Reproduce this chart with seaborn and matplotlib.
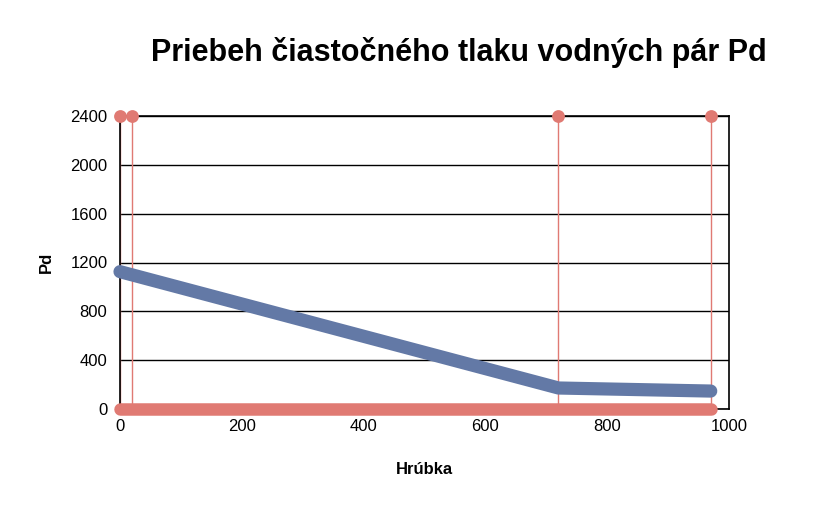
import matplotlib
matplotlib.use("Agg")
import matplotlib.pyplot as plt
import seaborn as sns
import pandas as pd

# layer boundaries (thickness, mm) and partial vapour pressure Pd
hrubka = [0, 720, 970]
pd_vals = [1125, 172, 147]
vrstvy = [0, 20, 720, 970]
y_max = 2400
y_ticks = [0, 400, 800, 1200, 1600, 2000, 2400]
x_ticks = [0, 200, 400, 600, 800, 1000]

blue = "#6379a6"
red = "#e07a73"

sns.set_theme(style="white")
plt.rcParams['font.family'] = ['Liberation Sans', 'DejaVu Sans']
plt.rcParams['text.color'] = 'black'
plt.rcParams['axes.labelcolor'] = 'black'

fig = plt.figure(figsize=(8.22, 5.08), dpi=100)
ax = fig.add_axes([120 / 822, 1 - 409 / 508, 609 / 822, 293 / 508])

df = pd.DataFrame({'Hrúbka': hrubka, 'Pd': pd_vals})

# layer boundaries (thin lines under the spines)
for v in vrstvy:
    sns.lineplot(x=[v, v], y=[0, y_max], ax=ax, color=red, lw=1, estimator=None, zorder=2.2)
# red baseline at 0
sns.lineplot(x=[vrstvy[0], vrstvy[-1]], y=[0, 0], ax=ax, color=red, lw=9,
             solid_capstyle='round', estimator=None, zorder=3, clip_on=False)
# blue Pd curve
sns.lineplot(data=df, x='Hrúbka', y='Pd', ax=ax, color=blue, lw=9.5, clip_on=False,
             solid_capstyle='round', solid_joinstyle='round', estimator=None, zorder=4)
# markers at top of boundaries
sns.scatterplot(x=vrstvy, y=[y_max] * len(vrstvy), ax=ax, color=red, s=85,
                linewidth=0, zorder=6, clip_on=False)

ax.set_xlim(0, 1000)
ax.set_ylim(0, y_max)
ax.set_xticks(x_ticks)
ax.set_yticks(y_ticks)
ax.yaxis.grid(True, color='black', lw=1)
ax.xaxis.grid(False)
ax.set_axisbelow(True)
for s in ax.spines.values():
    s.set_visible(True)
    s.set_color('black')
    s.set_linewidth(1.2)
ax.tick_params(axis='both', length=0, labelsize=12, colors='black')
ax.tick_params(axis='y', pad=9)
ax.tick_params(axis='x', pad=7)
ax.set_xlabel('Hrúbka', fontsize=12, fontweight='bold', labelpad=20)
ax.set_ylabel('Pd', fontsize=12, fontweight='bold', labelpad=12)

fig.text(459 / 822, 1 - 53 / 508, 'Priebeh čiastočného tlaku vodných pár Pd',
         ha='center', va='center', fontsize=22, fontweight='bold')

fig.savefig('out.png', dpi=100)
